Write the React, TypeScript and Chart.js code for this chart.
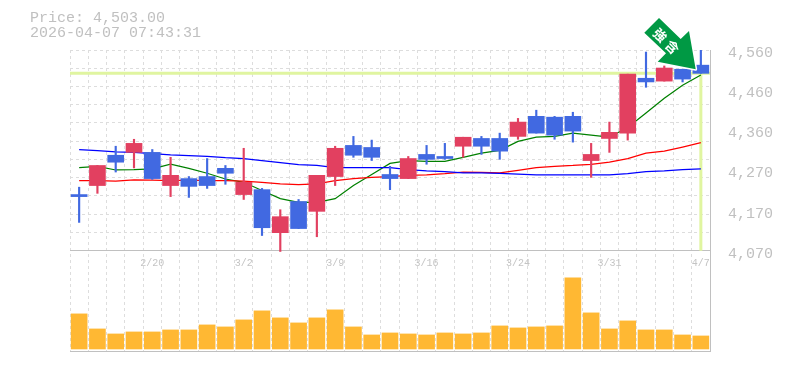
import React, { useEffect, useRef } from "react";
import { Chart, registerables } from "chart.js";

Chart.register(...registerables);

const dates = ["2/16","2/17","2/18","2/19","2/20","2/24","2/25","2/26","2/27","3/2","3/3","3/4","3/5","3/6","3/9","3/10","3/11","3/12","3/13","3/16","3/17","3/18","3/19","3/23","3/24","3/25","3/26","3/27","3/30","3/31","4/1","4/2","4/3","4/6","4/7"];
const shownDates = ["2/20","3/2","3/9","3/16","3/24","3/31","4/7"];
const openPrices = [4207,4229,4303,4310,4310,4229,4246,4251,4271,4207,4219,4114,4190,4166,4251,4327,4322,4256,4246,4305,4300,4325,4344,4344,4349,4398,4396,4398,4290,4344,4357,4491,4484,4513,4523];
const closePrices = [4202,4278,4286,4332,4246,4254,4227,4229,4259,4237,4126,4153,4124,4254,4320,4303,4298,4246,4295,4293,4295,4347,4325,4313,4384,4357,4352,4362,4305,4359,4501,4482,4516,4489,4503];
const highPrices = [4225,4278,4325,4342,4317,4298,4251,4295,4278,4320,4222,4170,4195,4254,4325,4349,4340,4276,4300,4327,4332,4347,4349,4357,4393,4413,4398,4408,4332,4384,4501,4555,4521,4513,4560];
const lowPrices = [4139,4210,4262,4272,4244,4202,4200,4222,4232,4195,4107,4068,4124,4104,4229,4298,4290,4219,4246,4281,4293,4298,4305,4293,4342,4357,4342,4335,4249,4310,4340,4469,4484,4482,4503];
const maShort = [4273,4276,4267,4268,4270,4281,4271,4259,4245,4237,4217,4197,4188,4188,4197,4229,4256,4283,4290,4288,4288,4298,4308,4315,4337,4347,4349,4357,4352,4347,4371,4406,4442,4474,4499];
const maMid = [4241,4241,4240,4243,4242,4241,4242,4241,4241,4240,4237,4233,4231,4233,4241,4246,4249,4251,4254,4255,4258,4262,4261,4260,4266,4273,4276,4278,4281,4286,4295,4308,4313,4323,4334];
const maLong = [4317,4314,4311,4310,4307,4304,4302,4300,4297,4295,4290,4285,4280,4278,4273,4273,4273,4273,4268,4265,4263,4260,4260,4259,4257,4255,4255,4255,4255,4255,4258,4263,4265,4268,4270];
const volumes = [35,20,15,17,17,19,19,24,22,29,38,31,26,31,39,22,14,16,15,14,16,15,16,23,21,22,23,71,36,20,28,19,19,14,13];
const priceTicks = [4560,4462,4364,4266,4168,4070];
const gridSteps = [0,1,2,3,4,5,6,7,8,9,10,11];
const lastPrice = 4503;
const headline = "Price: 4,503.00";
const timestamp = "2026-04-07 07:43:31";
const badge = ["強", "含"];

const RED = "#e24060";
const BLUE = "#4169e1";
const GREY = "#c0c0c0";
const MONO = "'Liberation Mono', monospace";

const overlay = {
  id: "overlay",
  beforeDatasetsDraw(chart: any) {
    const { ctx, chartArea, scales } = chart;
    const y = scales.y.getPixelForValue(lastPrice);
    const x = scales.x.getPixelForValue(dates.length - 1);
    const base = scales.y.getPixelForValue(priceTicks[priceTicks.length - 1]);
    ctx.save();
    ctx.strokeStyle = "#e0f5a0";
    ctx.lineWidth = 3;
    ctx.beginPath();
    ctx.moveTo(chartArea.left, y);
    ctx.lineTo(chartArea.right, y);
    ctx.moveTo(x, y);
    ctx.lineTo(x, base);
    ctx.stroke();
    ctx.strokeStyle = GREY;
    ctx.lineWidth = 1;
    ctx.beginPath();
    ctx.moveTo(chartArea.left, chartArea.bottom + 0.5);
    ctx.lineTo(chartArea.right, chartArea.bottom + 0.5);
    ctx.stroke();
    ctx.restore();
  },
  afterDatasetsDraw(chart: any) {
    const { ctx } = chart;
    ctx.save();
    ctx.beginPath();
    ctx.moveTo(644.3, 32.7);
    ctx.lineTo(659, 18);
    ctx.lineTo(680.7, 39);
    ctx.lineTo(689, 31);
    ctx.lineTo(695.7, 69.3);
    ctx.lineTo(657.7, 61.7);
    ctx.lineTo(666, 53.3);
    ctx.closePath();
    ctx.lineJoin = "round";
    ctx.lineWidth = 3;
    ctx.strokeStyle = "#ffffff";
    ctx.stroke();
    ctx.fillStyle = "#009944";
    ctx.fill();
    ctx.fillStyle = "#ffffff";
    ctx.font = "bold 13px 'Noto Sans CJK JP'";
    ctx.textAlign = "center";
    ctx.textBaseline = "middle";
    const spots = [[660, 35], [672, 47]];
    badge.forEach((glyph, i) => {
      ctx.save();
      ctx.translate(spots[i][0], spots[i][1]);
      ctx.rotate(Math.PI / 4);
      ctx.fillText(glyph, 0, 0);
      ctx.restore();
    });
    ctx.restore();
  },
};

export default function App() {
  const ref = useRef<HTMLCanvasElement | null>(null);
  useEffect(() => {
    if (!ref.current) return;
    const colors = openPrices.map((o, i) => (closePrices[i] >= o ? RED : BLUE));
    const ma = (data: number[], color: string) => ({
      type: "line" as const,
      data,
      yAxisID: "y",
      borderColor: color,
      borderWidth: 1.25,
      pointRadius: 0,
      tension: 0,
      order: 3,
    });
    const chart = new Chart(ref.current, {
      type: "bar",
      data: {
        labels: dates,
        datasets: [
          { data: volumes, yAxisID: "yVol", backgroundColor: "#ffb833", barThickness: 16, grouped: false, order: 5 },
          ma(maLong, "#0000ff"),
          ma(maMid, "#ff0000"),
          ma(maShort, "#008000"),
          { data: dates.map((_, i) => [lowPrices[i], highPrices[i]]), yAxisID: "y", backgroundColor: colors, barThickness: 1.5, grouped: false, order: 2 },
          { data: dates.map((_, i) => [openPrices[i], closePrices[i]]), yAxisID: "y", backgroundColor: colors, barThickness: 16, grouped: false, order: 1 },
        ] as any,
      },
      options: {
        responsive: false,
        animation: false,
        layout: { padding: { left: 70, top: 50, right: 0, bottom: 19 } },
        plugins: { legend: { display: false }, title: { display: false }, tooltip: { enabled: false } },
        scales: {
          x: {
            position: { y: priceTicks[priceTicks.length - 1] },
            offset: true,
            grid: { display: true, color: "#dddddd", offset: true, drawTicks: false, lineWidth: 1 },
            border: { display: true, color: GREY, width: 1, dash: [3, 3] },
            ticks: {
              autoSkip: false,
              maxRotation: 0,
              padding: 7,
              color: "#c4c4c4",
              font: { family: MONO, size: 10 },
              callback: (_: any, i: number) => (shownDates.includes(dates[i]) ? dates[i] : ""),
            },
          },
          y: {
            position: "right",
            min: 3825,
            max: 4560,
            afterBuildTicks: (s: any) => { s.ticks = priceTicks.map((value) => ({ value })); },
            afterFit: (s: any) => { s.width = 75; },
            grid: { display: false },
            border: { display: true, color: GREY, width: 1 },
            ticks: {
              padding: 10,
              labelOffset: 3,
              color: GREY,
              font: { family: MONO, size: 15 },
              callback: (v: any) => (Math.round(Number(v) / 10) * 10).toLocaleString("en-US"),
            },
          },
          yGrid: {
            position: "left",
            min: 0,
            max: 33 / 2,
            reverse: true,
            afterBuildTicks: (s: any) => { s.ticks = gridSteps.map((value) => ({ value })); },
            afterFit: (s: any) => { s.width = 0; },
            grid: { color: "#dddddd", drawTicks: false, lineWidth: 1 },
            border: { display: false, dash: [3, 3] },
            ticks: { display: false },
          },
          yVol: { display: false, min: -2, max: 298 },
        },
      } as any,
      plugins: [overlay],
    });
    return () => chart.destroy();
  }, []);
  return (
    <div style={{ position: "fixed", left: 0, top: 0, width: 785, height: 370, background: "#fff" }}>
      <canvas ref={ref} width={785} height={370} style={{ display: "block" }} />
      <div style={{ position: "absolute", left: 30, top: 11, font: `15px/15px ${MONO}`, color: GREY, whiteSpace: "pre" }}>
        <div>{headline}</div>
        <div>{timestamp}</div>
      </div>
    </div>
  );
}
